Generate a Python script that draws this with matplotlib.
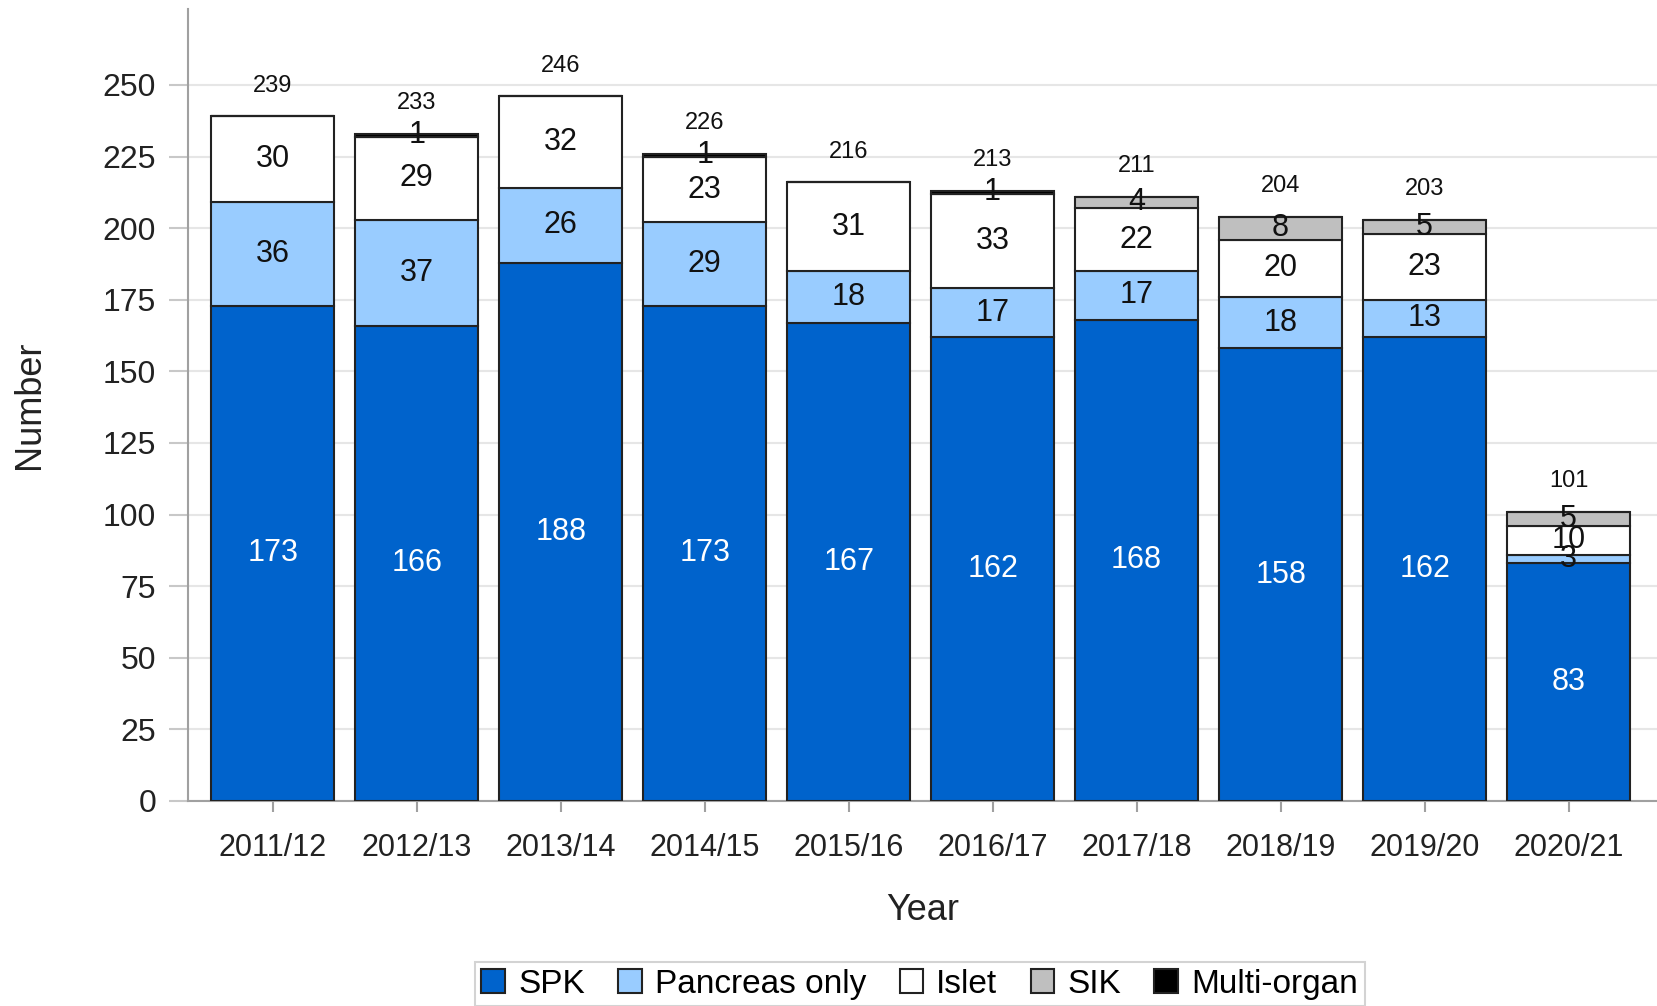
import numpy as np
import matplotlib
matplotlib.use("Agg")
import matplotlib.pyplot as plt

plt.rcParams['font.family'] = ['Liberation Sans', 'DejaVu Sans']

# Data
years = ["2011/12", "2012/13", "2013/14", "2014/15", "2015/16",
         "2016/17", "2017/18", "2018/19", "2019/20", "2020/21"]
spk = [173, 166, 188, 173, 167, 162, 168, 158, 162, 83]
pancreas_only = [36, 37, 26, 29, 18, 17, 17, 18, 13, 3]
islet = [30, 29, 32, 23, 31, 33, 22, 20, 23, 10]
sik = [0, 0, 0, 0, 0, 0, 4, 8, 5, 5]
multi_organ = [0, 1, 0, 1, 0, 1, 0, 0, 0, 0]

series = [("SPK", spk, "#0063cc", "white"),
          ("Pancreas only", pancreas_only, "#99ccff", "#111111"),
          ("Islet", islet, "white", "#111111"),
          ("SIK", sik, "#bfbfbf", "#111111"),
          ("Multi-organ", multi_organ, "black", "#111111")]

fig = plt.figure(figsize=(16.57, 10.06), dpi=100)
ax = fig.add_axes([188/1657, 1 - 801/1006, 1 - 188/1657, (801 - 8.5)/1006])

x = np.arange(len(years))
bottom = np.zeros(len(years))
for name, vals, col, tcol in series:
    vals = np.array(vals, dtype=float)
    ax.bar(x, vals, 0.85, bottom=bottom, color=col, edgecolor="#222222",
           linewidth=1.5, label=name, zorder=3)
    for i, v in enumerate(vals):
        if v > 0:
            ax.text(x[i], bottom[i] + v/2, "%d" % v, ha="center", va="center",
                    color=tcol, fontsize=22, zorder=4)
    bottom += vals

# totals above bars
for i, t in enumerate(bottom):
    ax.annotate("%d" % t, (x[i], t), xytext=(0, 22), textcoords="offset points",
                ha="center", va="center", fontsize=17, color="#111111")

ax.set_xlim(-0.588, 9.614)
ax.set_ylim(0, 276.7)
ax.set_yticks(np.arange(0, 251, 25))
ax.set_xticks(x)
ax.set_xticklabels(years)
ax.yaxis.grid(True, color="#e6e6e6", linewidth=1.5, zorder=0)
ax.set_axisbelow(True)

for s in ["top", "right"]:
    ax.spines[s].set_visible(False)
for s in ["left", "bottom"]:
    ax.spines[s].set_color("#a0a0a0")
    ax.spines[s].set_linewidth(1.5)

ax.tick_params(axis="y", length=14, color="#c8c8c8", width=1.5, pad=9,
               labelsize=23, labelcolor="#222222")
ax.tick_params(axis="x", length=8, color="#a0a0a0", width=1.5, pad=15,
               labelsize=22, labelcolor="#222222")

ax.set_xlabel("Year", fontsize=26, color="#222222", labelpad=22)
ax.set_ylabel("Number", fontsize=26, color="#222222", labelpad=40)

leg = fig.legend(loc="upper center", bbox_to_anchor=(0.555, 1 - 962/1006),
                 ncol=5, fontsize=24, frameon=True, fancybox=False,
                 handlelength=0.7, handleheight=0.7, handletextpad=0.4,
                 columnspacing=1.0, borderpad=0.2, borderaxespad=0)
leg.get_frame().set_edgecolor("#c8c8c8")
leg.get_frame().set_linewidth(1.5)

fig.savefig("out.png", dpi=100)
